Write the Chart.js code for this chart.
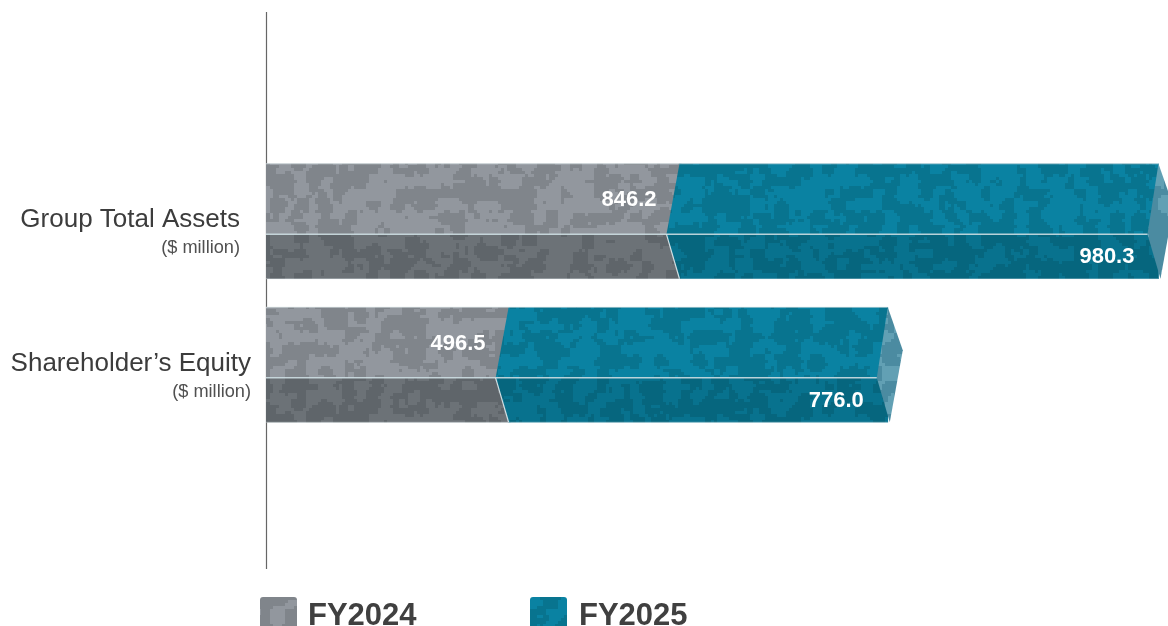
<!DOCTYPE html>
<html>
<head>
<meta charset="utf-8">
<style>
  html, body { margin: 0; padding: 0; background: #fff; overflow: hidden; }
  canvas { display: block; }
</style>
<script src="https://cdn.jsdelivr.net/npm/chart.js@4"></script>
</head>
<body>
<canvas id="assetsChart" width="1168" height="626"></canvas>
<script>
// blank slots above and below keep the two bars near the middle of the axis
const categories = ['', 'Group Total Assets', 'Shareholder\u2019s Equity', ''];
const unitLabel = '($ million)';
const seriesNames = ['FY2024', 'FY2025'];
const fy2024Values = [null, 846.2, 496.5, null];
const fy2025Values = [null, 980.3, 776.0, null];

const FONT = '"Liberation Sans", Arial, sans-serif';
const BEVEL = 13;          // how far the waist of a join cuts back
const RIDGE = 0.614;       // where the top face meets the lower face

function hash(x, y, seed) {
    const s = Math.sin(x * 127.1 + y * 311.7 + seed * 74.7) * 43758.5453;
    return s - Math.floor(s);
}

// smooth noise on a wrapping grid, sampled in small blocks for the mottled finish
function smooth(px, py, cell, w, h, seed) {
    const cols = Math.round(w / cell), rows = Math.round(h / cell);
    const gx = px / cell, gy = py / cell;
    const x0 = Math.floor(gx), y0 = Math.floor(gy);
    const fx = gx - x0, fy = gy - y0;
    const ux = fx * fx * (3 - 2 * fx), uy = fy * fy * (3 - 2 * fy);
    const at = (a, b) => hash(a % cols, b % rows, seed);
    const top = at(x0, y0) * (1 - ux) + at(x0 + 1, y0) * ux;
    const bot = at(x0, y0 + 1) * (1 - ux) + at(x0 + 1, y0 + 1) * ux;
    return top * (1 - uy) + bot * uy;
}

function mottled(light, dark, seed) {
    const w = 480, h = 240, block = 3;
    const tile = document.createElement('canvas');
    tile.width = w;
    tile.height = h;
    const c = tile.getContext('2d');
    for (let y = 0; y < h; y += block) {
        for (let x = 0; x < w; x += block) {
            const n = smooth(x, y, 12, w, h, seed) * 0.65 + smooth(x, y, 5, w, h, seed + 3) * 0.35;
            c.fillStyle = n > 0.5 ? light : dark;
            c.fillRect(x, y, block, block);
        }
    }
    return c.createPattern(tile, 'repeat');
}

function polygon(ctx, pts, fill) {
    ctx.beginPath();
    pts.forEach((p, i) => (i ? ctx.lineTo(p[0], p[1]) : ctx.moveTo(p[0], p[1])));
    ctx.closePath();
    ctx.fillStyle = fill;
    ctx.fill();
}

function segment(ctx, x1, y1, x2, y2, color, width) {
    ctx.beginPath();
    ctx.moveTo(x1, y1);
    ctx.lineTo(x2, y2);
    ctx.strokeStyle = color;
    ctx.lineWidth = width;
    ctx.stroke();
}

const greyTexture = mottled('#92979e', '#80858b', 11);
const tealTexture = mottled('#0a82a2', '#08748f', 23);
const capTexture = mottled('#62a0b4', '#4b8ba1', 37);

const greyShade = 'rgba(20, 30, 30, 0.3)';
const tealShade = 'rgba(0, 30, 40, 0.16)';

const prismPlugin = {
    id: 'prism',
    beforeDatasetsDraw(chart) {
        // vertical axis line sits behind the bars
        const x = chart.chartArea.left + 0.5;
        segment(chart.ctx, x, 12, x, 569, '#666666', 1.2);
    },
    afterDatasetsDraw(chart) {
        const ctx = chart.ctx;
        const grey = chart.getDatasetMeta(0).data;
        const teal = chart.getDatasetMeta(1).data;
        ctx.save();
        categories.forEach((name, i) => {
            if (!name) return;
            const a = grey[i], b = teal[i];
            const top = a.y - a.height / 2, bottom = a.y + a.height / 2;
            const ridge = top + a.height * RIDGE;
            const join = a.x, end = b.x;

            // chevron join, the FY2025 prism cuts into FY2024
            polygon(ctx, [[join + 2, top], [join, top], [join - BEVEL, ridge], [join, bottom], [join + 2, bottom]], tealTexture);

            // darker lower faces
            polygon(ctx, [[a.base, ridge], [join - BEVEL, ridge], [join, bottom], [a.base, bottom]], greyShade);
            polygon(ctx, [[join - BEVEL, ridge], [end, ridge], [end, bottom], [join, bottom]], tealShade);

            // end cap
            polygon(ctx, [[end, top], [end + 15, top + 43], [end + 2, bottom], [end - 11, ridge]], capTexture);

            // light edges
            segment(ctx, a.base, top, end, top, 'rgba(215, 225, 228, 0.75)', 1);
            segment(ctx, a.base, bottom, end, bottom, 'rgba(215, 225, 228, 0.4)', 1);
            segment(ctx, a.base, ridge, end - 11, ridge, 'rgba(205, 222, 226, 0.9)', 1.5);
            segment(ctx, join - BEVEL, ridge, join, bottom, 'rgba(225, 235, 238, 0.9)', 1.2);
        });

        // value labels, FY2024 on the top face and FY2025 on the lower face
        ctx.font = 'bold 22px ' + FONT;
        ctx.fillStyle = '#ffffff';
        ctx.textAlign = 'right';
        ctx.textBaseline = 'alphabetic';
        categories.forEach((name, i) => {
            if (!name) return;
            const a = grey[i], b = teal[i];
            const ridge = a.y - a.height / 2 + a.height * RIDGE;
            ctx.fillText(fy2024Values[i].toFixed(1), a.x - 23, ridge - 28);
            ctx.fillText(fy2025Values[i].toFixed(1), b.x - 24, ridge + 29);
        });

        // category labels, each with its own right edge
        const rightEdges = [0, 240, 251, 0];
        categories.forEach((name, i) => {
            if (!name) return;
            const cy = grey[i].y;
            ctx.fillStyle = '#3c3c3c';
            ctx.font = '26px ' + FONT;
            ctx.fillText(name, rightEdges[i], cy + 6);
            ctx.fillStyle = '#505050';
            ctx.font = '18.2px ' + FONT;
            ctx.fillText(unitLabel, rightEdges[i], cy + 32);
        });

        // legend
        const swatchX = [260, 530], textX = [308, 579], swatches = [greyTexture, tealTexture];
        seriesNames.forEach((label, i) => {
            ctx.beginPath();
            ctx.roundRect(swatchX[i], 597, 37, 40, 3);
            ctx.fillStyle = swatches[i];
            ctx.fill();
            ctx.fillStyle = '#404040';
            ctx.font = 'bold 31px ' + FONT;
            ctx.textAlign = 'left';
            ctx.fillText(label, textX[i], 625);
            ctx.textAlign = 'right';
        });
        ctx.restore();
    }
};

new Chart(document.getElementById('assetsChart'), {
    type: 'bar',
    data: {
        labels: categories,
        datasets: [
            { label: seriesNames[0], data: fy2024Values, backgroundColor: greyTexture, barThickness: 115 },
            { label: seriesNames[1], data: fy2025Values, backgroundColor: tealTexture, barThickness: 115 }
        ]
    },
    options: {
        indexAxis: 'y',
        responsive: false,
        animation: false,
        layout: { padding: { left: 266, right: 0, top: 6, bottom: 46 } },
        plugins: { legend: { display: false }, tooltip: { enabled: false } },
        scales: {
            x: { stacked: true, display: false, min: 0, max: 1846 },
            y: { stacked: true, display: false }
        }
    },
    plugins: [prismPlugin]
});
</script>
</body>
</html>
